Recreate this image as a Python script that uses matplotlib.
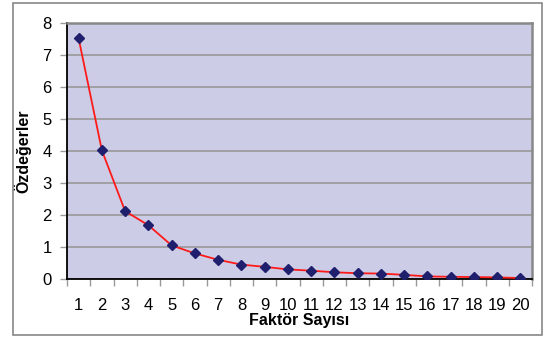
import matplotlib.pyplot as plt
from matplotlib.patches import Rectangle

factors = list(range(1, 21))
eigenvalues = [7.52, 4.02, 2.12, 1.68, 1.05, 0.8, 0.6, 0.45, 0.38, 0.3,
               0.26, 0.21, 0.18, 0.17, 0.13, 0.08, 0.07, 0.06, 0.05, 0.03]
y_ticks = list(range(0, 9))

fig = plt.figure(figsize=(5.43, 3.38), dpi=100)
fig.patches.append(Rectangle((13 / 543, 3 / 338), 529 / 543, 332 / 338,
                             transform=fig.transFigure, fill=False,
                             edgecolor='#888888', linewidth=1.2))
ax = fig.add_axes([67 / 543, 59 / 338, 465 / 543, 256 / 338])
ax.set_facecolor('#cccce6')

ax.plot(factors, eigenvalues, color='#ff1a1a', linewidth=1.3, zorder=3)
ax.plot(factors, eigenvalues, linestyle='none', marker='D', markersize=5.5,
        color='#1f1f6e', zorder=4)

ax.set_xlim(0.5, 20.5)
ax.set_ylim(0, 8)
ax.set_yticks(y_ticks)
ax.grid(axis='y', color='#999999', linewidth=1.2)
ax.set_axisbelow(True)

# category labels between boundary ticks
ax.set_xticks([i + 0.5 for i in range(0, 21)])
ax.set_xticklabels([])
ax.set_xticks(factors, minor=True)
ax.set_xticklabels([str(f) for f in factors], minor=True, fontsize=12,
                   family='Liberation Sans')
ax.tick_params(axis='x', which='minor', length=0, pad=14)
ax.tick_params(axis='x', which='major', length=5, color='#999999', width=1)
ax.tick_params(axis='y', length=5, color='#999999', width=1, labelsize=12,
               pad=6)
for lab in ax.get_yticklabels():
    lab.set_family('Liberation Sans')

for side in ['top', 'right']:
    ax.spines[side].set_color('#888888')
    ax.spines[side].set_linewidth(1.8)
ax.spines['left'].set_color('black')
ax.spines['bottom'].set_color('black')
ax.spines['left'].set_linewidth(1.3)
ax.spines['bottom'].set_linewidth(1.3)

ax.set_xlabel('Faktör Sayısı', fontsize=11.5, fontweight='bold',
              family='Liberation Sans', labelpad=0)
ax.set_ylabel('Özdeğerler', fontsize=11.5, fontweight='bold',
              family='Liberation Sans', labelpad=8)

fig.savefig('out.png', dpi=100)
